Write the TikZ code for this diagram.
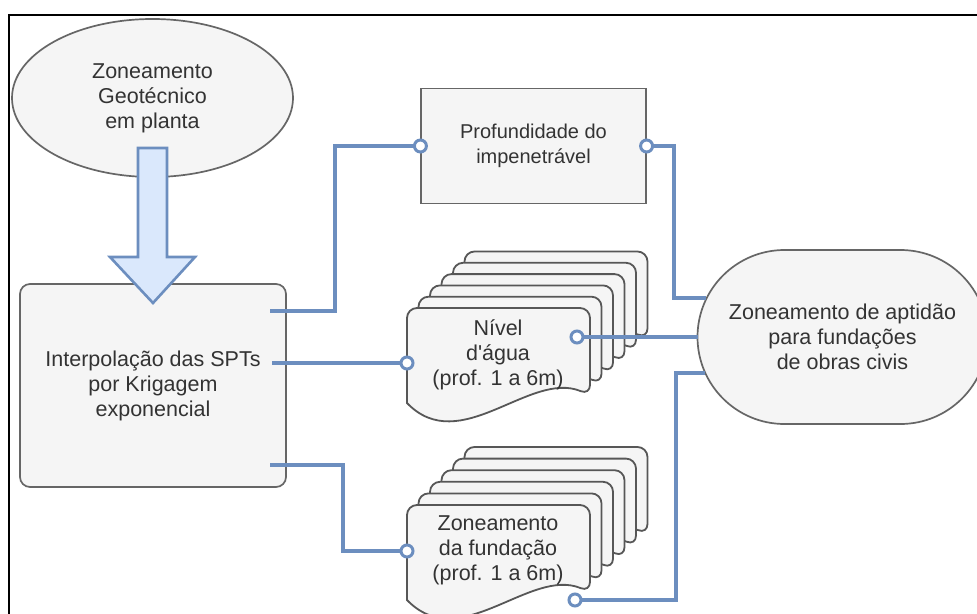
\documentclass[tikz,border=0pt]{standalone}
\usepackage{fontspec}
\setmainfont{Liberation Sans}
\usetikzlibrary{shapes.geometric}
\definecolor{bfill}{HTML}{F5F5F5}
\definecolor{bstroke}{HTML}{666666}
\definecolor{lblue}{HTML}{6C8EBF}
\definecolor{afill}{HTML}{DAE8FC}
\definecolor{tcol}{HTML}{333333}
\tikzset{
  box/.style={draw=bstroke, fill=bfill, line width=1.7pt, text=tcol, align=center, inner sep=0pt,
    font=\fontsize{21.5}{25}\selectfont},
  docsty/.style={draw=bstroke!85!black, fill=bfill, line width=1.8pt},
  conn/.style={draw=lblue, line width=4pt},
  port/.style={draw=lblue, fill=white, line width=3pt},
  docpic/.pic={\path[docsty] (0,95) {[rounded corners=10pt] -- (0,0) -- (183,0) -- (183,87)}
     .. controls (123,62) and (53,150) .. (0,95) -- cycle;},
}
\begin{document}
\begin{tikzpicture}[x=1pt,y=-1pt]
\useasboundingbox (0,0) rectangle (977,613);
\clip (0,0) rectangle (977,613);
\fill[white] (0,0) rectangle (977,613);
\draw[black, line width=1.8pt] (9,15) rectangle (1000,640);

% nodes
\node[box, ellipse, minimum width=281pt, minimum height=158pt] (zg) at (152.5,98)
  {Zoneamento\\Geotécnico\\em planta};
\node[box, rectangle, rounded corners=10pt, minimum width=266pt, minimum height=203pt] (interp) at (153,385.5)
  {Interpolação das SPTs\\por Krigagem\\exponencial};
\node[box, rectangle, line width=1.2pt, minimum width=225pt, minimum height=115pt,
  font=\fontsize{20}{25}\selectfont] (prof) at (533.5,146)
  {Profundidade do\\impenetrável};

% document stacks
\foreach \i in {5,4,...,0} {\pic at (407+11.5*\i,308-11.3*\i) {docpic};}
\node[text=tcol, align=center, font=\fontsize{21.5}{25}\selectfont] (nv) at (498,355)
  {Nível\\d\textquotesingle água\\(prof. 1 a 6m)};
\foreach \i in {5,4,...,0} {\pic at (407+11.5*\i,505-11.6*\i) {docpic};}
\node[text=tcol, align=center, font=\fontsize{21.5}{25}\selectfont] (zf) at (498,550)
  {Zoneamento\\da fundação\\(prof. 1 a 6m)};

\node[box, rectangle, rounded corners=87pt, minimum width=290pt, minimum height=174pt] (apt) at (842.5,337)
  {Zoneamento de aptidão\\para fundações\\de obras civis};

% big arrow
\draw[draw=lblue, fill=afill, line width=2.6pt, line join=miter]
  (138,148) -- (167,148) -- (167,257) -- (195,257) -- (153,303) -- (110,257) -- (138,257) -- cycle;

% connection points
\coordinate (i1) at (270,311);
\coordinate (i2) at (272,363);
\coordinate (i3) at (270,465);
\coordinate (nvin) at (407,363);
\coordinate (nvout) at (577,337);
\coordinate (zfin) at (407,551);
\coordinate (zfout) at (575,600);
\coordinate (e1) at (706,298);
\coordinate (e2) at (697.5,337);
\coordinate (e3) at (705,373);

% connectors
\draw[conn] (i1) -- ++(65,0) |- (prof.west);
\draw[conn] (i2) -- (nvin);
\draw[conn] (i3) -- ++(73,0) |- (zfin);
\draw[conn] (prof.east) -- ++(27,0) |- (e1);
\draw[conn] (nvout) -- (e2);
\draw[conn] (zfout) -- ++(101,0) |- (e3);

\foreach \p in {prof.west, prof.east, nvin, nvout, zfin, zfout}
  \draw[port] (\p) circle[radius=6pt];
\end{tikzpicture}
\end{document}
